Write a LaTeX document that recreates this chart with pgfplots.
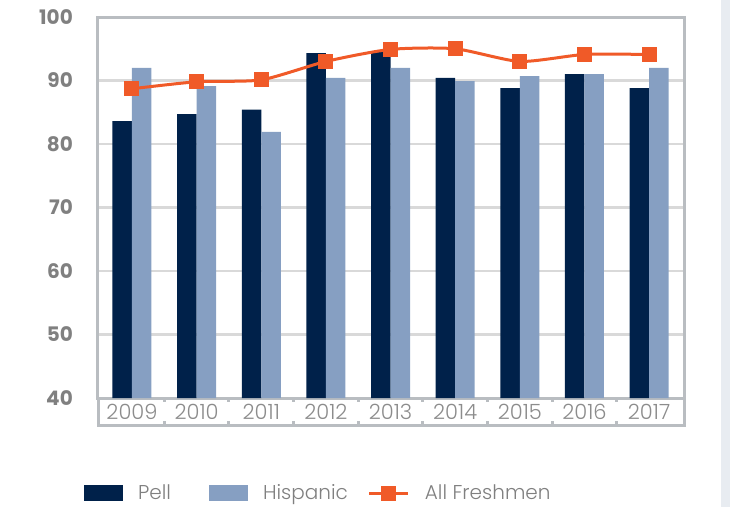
\documentclass[border=0pt]{standalone}
\usepackage{fontspec}
\setmainfont{Poppins}
\newfontfamily\lightfont{Poppins}[UprightFont={* Light}]
\usepackage{pgfplots}
\pgfplotsset{compat=1.18}
\definecolor{navy}{HTML}{00214A}
\definecolor{hisp}{HTML}{869FC2}
\definecolor{orng}{HTML}{F05A28}
\definecolor{gridgray}{HTML}{D9D9D9}
\definecolor{framegray}{HTML}{B9BDC1}
\definecolor{labgray}{HTML}{808080}
\definecolor{yeargray}{HTML}{8C8C8C}
\definecolor{panel}{HTML}{E8ECF1}
\begin{document}
\begin{tikzpicture}[x=1pt,y=1pt]
\useasboundingbox (-98,-109) rectangle (632,398);
\fill[panel] (623,-109) rectangle (632,398);
\begin{axis}[
  at={(0,0)}, anchor=south west,
  width=586pt, height=381pt, scale only axis,
  xmin=-0.526, xmax=8.54, ymin=40, ymax=100,
  ytick={40,50,...,100},
  xtick={0,...,8},
  xticklabels={2009,2010,2011,2012,2013,2014,2015,2016,2017},
  /pgf/number format/assume math mode=true,
  major tick length=0pt,
  ymajorgrids,
  grid style={line width=2.5pt, color=gridgray},
  axis line style={line width=3pt, color=framegray},
  clip=false,
  yticklabel style={font=\bfseries\fontsize{20}{20}\selectfont, color=labgray, anchor=east, inner sep=0pt, xshift=-25pt},
  xticklabel style={font=\lightfont\fontsize{21}{21}\selectfont, color=yeargray, anchor=base, inner sep=0pt, yshift=-21pt},
  bar width=19.5pt,
  legend columns=3,
  legend style={at={(axis description cs:0,0)}, anchor=west, xshift=-14pt, yshift=-95pt,
    draw=none, fill=none, inner sep=0pt,
    nodes={inner sep=0pt, anchor=west},
    font=\lightfont\fontsize{20}{20}\selectfont, text=labgray,
    /tikz/every odd column/.append style={column sep=15pt},
    /tikz/column 2/.style={column sep=38pt},
    /tikz/column 4/.style={column sep=20pt}},
]
\addplot[ybar, fill=navy, draw=none, bar shift=-9.75pt,
  legend image code/.code={\fill[navy] (0pt,-8pt) rectangle (39pt,8pt);}]
  coordinates {(0,83.6) (1,84.7) (2,85.4) (3,94.3) (4,94.5) (5,90.4) (6,88.8) (7,91.0) (8,88.8)};
\addlegendentry{Pell}
\addplot[ybar, fill=hisp, draw=none, bar shift=9.75pt,
  legend image code/.code={\fill[hisp] (0pt,-8pt) rectangle (39pt,8pt);}]
  coordinates {(0,92.0) (1,89.1) (2,81.9) (3,90.4) (4,92.0) (5,89.9) (6,90.7) (7,91.0) (8,92.0)};
\addlegendentry{Hispanic}
\addplot[color=orng, line width=3pt, smooth, tension=0.4, mark=square*, mark size=6pt,
  mark options={fill=orng, draw=none, solid},
  legend image code/.code={\draw[orng, line width=3pt] (0pt,0pt) -- (39pt,0pt); \fill[orng] (13.5pt,-6pt) rectangle (25.5pt,6pt);}]
  coordinates {(0,88.7) (1,89.8) (2,90.1) (3,93.0) (4,94.9) (5,95.0) (6,93.0) (7,94.1) (8,94.1)};
\addlegendentry{All Freshmen}
\end{axis}
% category strip below the plot
\draw[framegray, line width=3pt] (0,0) -- (0,-27) -- (586,-27) -- (586,0);
\foreach \i in {0,...,7} {
  \pgfmathsetmacro{\xx}{66.32+64.637*\i}
  \fill[framegray] (\xx-1.5,0) rectangle ++(3,-4);
  \fill[framegray] (\xx-1.5,-27) rectangle ++(3,4);
}
\end{tikzpicture}
\end{document}
